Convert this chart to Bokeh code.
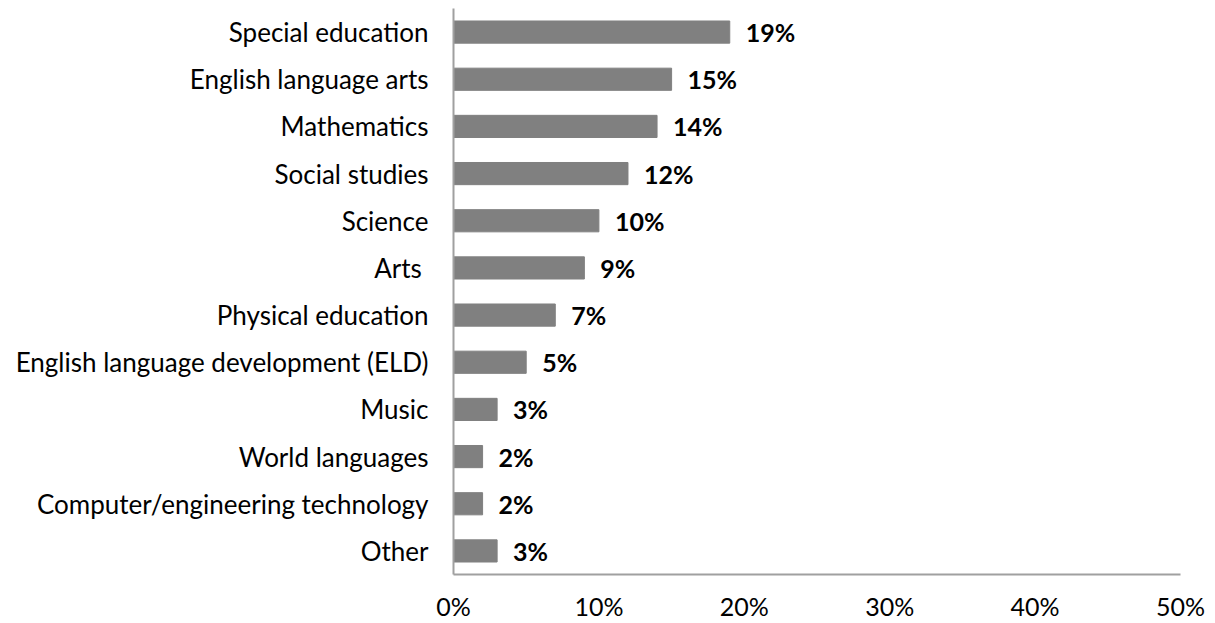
from bokeh.plotting import figure
from bokeh.models import Range1d, FactorRange, FixedTicker, ColumnDataSource, CustomJSTickFormatter
from bokeh.core.properties import value
from bokeh.embed import file_html
from bokeh.resources import INLINE

categories = ["Special education", "English language arts", "Mathematics", "Social studies",
              "Science", "Arts ", "Physical education", "English language development (ELD)",
              "Music", "World languages", "Computer/engineering technology", "Other"]
values = [19, 15, 14, 12, 10, 9, 7, 5, 3, 2, 2, 3]
labels = ["19%", "15%", "14%", "12%", "10%", "9%", "7%", "5%", "3%", "2%", "2%", "3%"]
x_ticks = [0, 10, 20, 30, 40, 50]

src = ColumnDataSource(dict(cat=categories, val=values, lab=labels))

p = figure(y_range=FactorRange(factors=list(reversed(categories)), range_padding=0),
           x_range=Range1d(0, 50),
           frame_width=727, frame_height=566,
           min_border_left=453, min_border_top=8, min_border_right=34, min_border_bottom=49,
           output_backend="svg", toolbar_location=None)

p.hbar(y="cat", right="val", left=0, height=0.47, source=src, color="#808080")
p.text(x="val", y="cat", text="lab", source=src, x_offset=16, text_baseline="middle",
       text_align="left", text_font=value("Lato"), text_font_style="bold",
       text_font_size="25px", text_color="#000000")

p.xgrid.visible = False
p.ygrid.visible = False
p.outline_line_color = None

p.xaxis.ticker = FixedTicker(ticks=x_ticks)
p.xaxis.formatter = CustomJSTickFormatter(code="return tick + '%';")
for ax in (p.xaxis[0], p.yaxis[0]):
    ax.axis_line_color = "#a0a0a0"
    ax.axis_line_width = 2
    ax.major_tick_line_color = None
    ax.minor_tick_line_color = None
    ax.major_label_text_font = "Lato"
    ax.major_label_text_color = "#000000"
p.yaxis.major_label_text_font_size = "26px"
p.xaxis.major_label_text_font_size = "25px"
p.xaxis.major_label_standoff = 10
p.yaxis.major_label_standoff = 19

open("out.html", "w").write(file_html(p, INLINE))
